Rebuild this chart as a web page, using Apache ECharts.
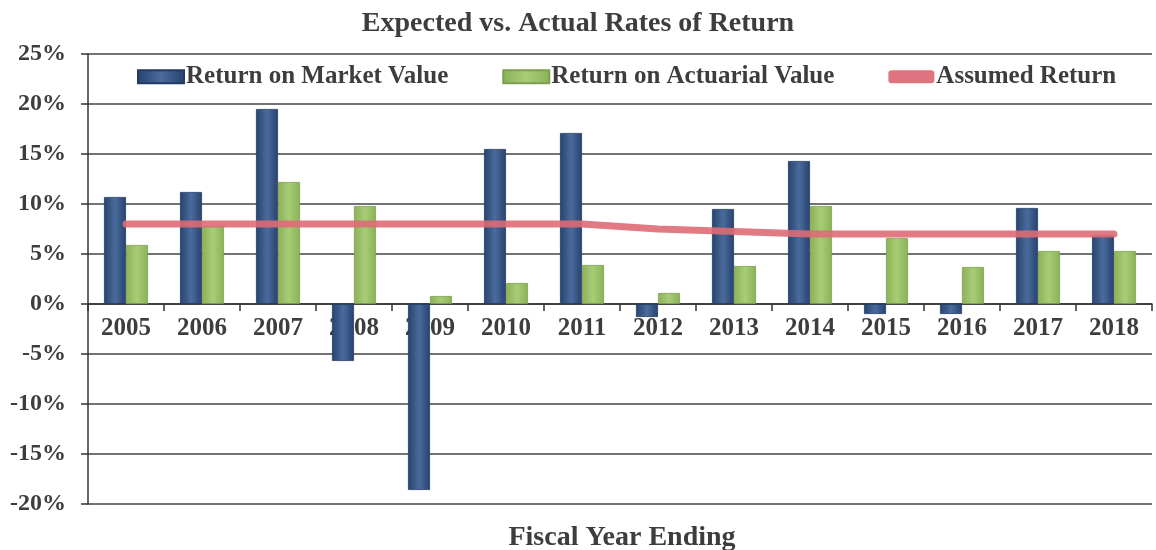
<head> </head>

<body style="margin:0">
  <div id="main" style="width: 1156px; height: 550px"></div>
  <script src="https://cdn.jsdelivr.net/npm/echarts@6/dist/echarts.min.js"></script>
  <script>
    // data (percent)
    var years = ["2005", "2006", "2007", "2008", "2009", "2010", "2011",
      "2012", "2013", "2014", "2015", "2016", "2017", "2018"];
    var marketReturn = [10.7, 11.2, 19.5, -5.7, -18.6, 15.5, 17.1,
      -1.3, 9.5, 14.3, -1.0, -1.0, 9.6, 6.9];
    var actuarialReturn = [5.9, 7.8, 12.2, 9.8, 0.8, 2.1, 3.9,
      1.1, 3.8, 9.8, 6.6, 3.7, 5.3, 5.3];
    var assumedReturn = [8.0, 8.0, 8.0, 8.0, 8.0, 8.0, 8.0,
      7.5, 7.25, 7.0, 7.0, 7.0, 7.0, 7.0];

    var font = "Liberation Serif";
    var txt = "#3d3d3d";

    var blue = new echarts.graphic.LinearGradient(0, 0, 1, 0, [
      { offset: 0, color: "#27436f" },
      { offset: 0.5, color: "#4a6b9d" },
      { offset: 1, color: "#27436f" },
    ]);
    var green = new echarts.graphic.LinearGradient(0, 0, 1, 0, [
      { offset: 0, color: "#8ab255" },
      { offset: 0.5, color: "#a8cc78" },
      { offset: 1, color: "#8ab255" },
    ]);

    var myChart = echarts.init(document.getElementById("main"));
    var option = {
      animation: false,
      backgroundColor: "#fff",
      title: [
        {
          text: "Expected vs. Actual Rates of Return",
          left: "center",
          top: 2,
          padding: 0,
          textStyle: { fontFamily: font, fontSize: 28, fontWeight: "bold", color: txt },
        },
        {
          text: "Fiscal Year Ending",
          left: 622,
          textAlign: "center",
          top: 516,
          padding: 0,
          textStyle: { fontFamily: font, fontSize: 28, fontWeight: "bold", color: txt },
        },
      ],
      legend: {
        left: 137,
        top: 57,
        padding: 0,
        itemGap: 54,
        itemWidth: 46,
        itemHeight: 13,
        textStyle: { fontFamily: font, fontSize: 25, fontWeight: "bold", color: txt, padding: [0, 0, 0, -3] },
        data: [
          { name: "Return on Market Value", icon: "rect" },
          { name: "Return on Actuarial Value", icon: "rect" },
          { name: "Assumed Return", icon: "roundRect", itemStyle: { color: "#df7480" } },
        ],
      },
      grid: { left: 88, right: 4, top: 54, bottom: 46 },
      xAxis: {
        type: "category",
        data: years,
        position: "bottom",
        offset: -200,
        axisLine: { onZero: false, lineStyle: { color: "#333", width: 1.5 } },
        axisTick: { show: true, length: 7, lineStyle: { color: "#333", width: 1.5 } },
        axisLabel: { fontFamily: font, fontSize: 25, fontWeight: "bold", color: txt, margin: 5 },
      },
      yAxis: {
        type: "value",
        min: -20,
        max: 25,
        interval: 5,
        axisLine: { show: true, lineStyle: { color: "#333", width: 1.5 } },
        axisTick: { show: true, length: 7, lineStyle: { color: "#333", width: 1.5 } },
        axisLabel: { formatter: "{value}%", fontFamily: font, fontSize: 24, fontWeight: "bold", color: txt, margin: 22 },
        splitLine: { lineStyle: { color: "#444", width: 1.5 } },
      },
      series: [
        {
          name: "Return on Market Value",
          type: "bar",
          data: marketReturn,
          barWidth: 22,
          barGap: "0%",
          itemStyle: { color: blue, borderColor: "#223b63", borderWidth: 0.8 },
        },
        {
          name: "Return on Actuarial Value",
          type: "bar",
          data: actuarialReturn,
          barWidth: 22,
          itemStyle: { color: green, borderColor: "#7d9e4c", borderWidth: 0.8 },
        },
        {
          name: "Assumed Return",
          type: "line",
          data: assumedReturn,
          symbol: "none",
          z: 5,
          lineStyle: { color: "#de6c76", width: 7, opacity: 0.9, cap: "round" },
          itemStyle: { color: "#df7480" },
        },
      ],
    };
    myChart.setOption(option);
  </script>
</body>
